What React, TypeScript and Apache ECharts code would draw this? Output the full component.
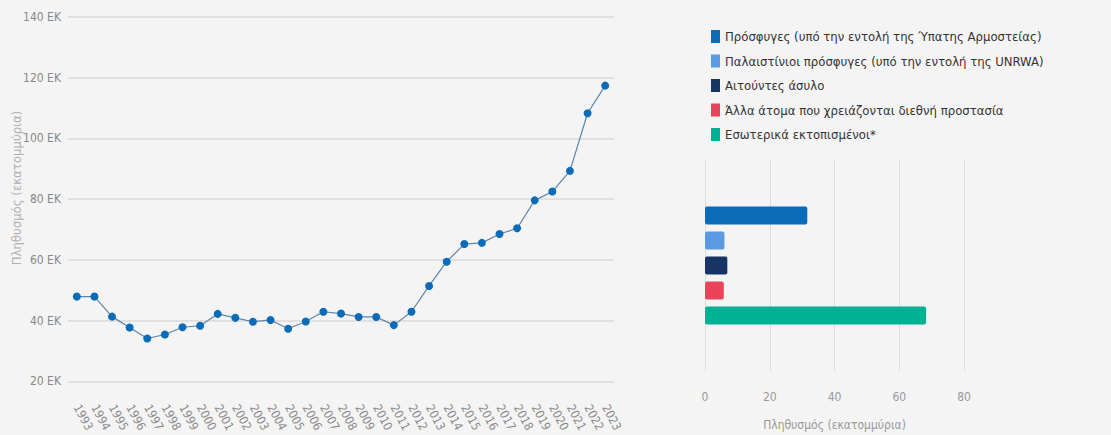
import React, { useEffect, useRef } from "react";
import * as echarts from "echarts";

const years = [
  "1993", "1994", "1995", "1996", "1997", "1998", "1999", "2000", "2001", "2002",
  "2003", "2004", "2005", "2006", "2007", "2008", "2009", "2010", "2011", "2012",
  "2013", "2014", "2015", "2016", "2017", "2018", "2019", "2020", "2021", "2022", "2023",
];
const population = [
  47.9, 47.9, 41.3, 37.7, 34.1, 35.4, 37.8, 38.3, 42.2, 40.9,
  39.6, 40.2, 37.3, 39.7, 42.9, 42.3, 41.2, 41.2, 38.5, 42.9,
  51.4, 59.4, 65.2, 65.6, 68.5, 70.4, 79.6, 82.5, 89.3, 108.3, 117.4,
];
const groupNames = [
  "Πρόσφυγες (υπό την εντολή της Ύπατης Αρμοστείας)",
  "Παλαιστίνιοι πρόσφυγες (υπό την εντολή της UNRWA)",
  "Αιτούντες άσυλο",
  "Άλλα άτομα που χρειάζονται διεθνή προστασία",
  "Εσωτερικά εκτοπισμένοι*",
];
const groupValues = [31.6, 6.0, 6.9, 5.8, 68.3];
const groupColors = ["#0a6bb9", "#5a9ae0", "#173563", "#e8445b", "#00b294"];
const yUnit = "ΕΚ";
const axisTitle = "Πληθυσμός (εκατομμύρια)";

const FONT = "'Liberation Sans Narrow', 'DejaVu Sans Condensed', 'Roboto', sans-serif";

export default function App() {
  const ref = useRef<HTMLDivElement>(null);
  useEffect(() => {
    if (!ref.current) return;
    const chart = echarts.init(ref.current, undefined, { renderer: "svg" });
    const barSeries = groupNames.map((name, i) => ({
      type: "bar",
      name,
      xAxisIndex: 1,
      yAxisIndex: 1,
      data: [groupValues[i]],
      barWidth: 18,
      barGap: "39%",
      itemStyle: { color: groupColors[i], borderRadius: 2 },
    }));
    chart.setOption({
      animation: false,
      backgroundColor: "#f4f4f4",
      textStyle: { fontFamily: FONT },
      graphic: [
        {
          type: "text",
          x: 16,
          y: 188,
          rotation: Math.PI / 2,
          style: {
            text: axisTitle,
            fill: "#b0b0b0",
            fontSize: 13,
            fontFamily: FONT,
            align: "center",
            verticalAlign: "middle",
          },
        },
      ],
      legend: {
        orient: "vertical",
        left: 706,
        top: 25,
        icon: "rect",
        itemWidth: 9,
        itemHeight: 13,
        itemGap: 11.5,
        data: groupNames,
        textStyle: { color: "#333", fontSize: 13, fontFamily: FONT, lineHeight: 13 },
        selectedMode: false,
      },
      grid: [
        { left: 68, right: 497, top: 17, bottom: 52 },
        { left: 705, right: 147, top: 160, bottom: 64 },
      ],
      xAxis: [
        {
          type: "category",
          gridIndex: 0,
          data: years,
          boundaryGap: true,
          axisLine: { show: false },
          axisTick: { show: false },
          axisLabel: {
            interval: 0,
            rotate: -62,
            margin: 24,
            color: "#8a8a8a",
            fontSize: 12,
            fontFamily: FONT,
          },
        },
        {
          type: "value",
          gridIndex: 1,
          min: 0,
          max: 80,
          interval: 20,
          axisLine: { show: false },
          axisTick: { show: false },
          splitLine: { show: true, lineStyle: { color: "#dcdcdc", width: 1 } },
          axisLabel: { color: "#999", fontSize: 12, margin: 20, fontFamily: FONT },
          name: axisTitle,
          nameLocation: "middle",
          nameGap: 48,
          nameTextStyle: { color: "#999", fontSize: 12, fontFamily: FONT },
        },
      ],
      yAxis: [
        {
          type: "value",
          gridIndex: 0,
          min: 20,
          max: 140,
          interval: 20,
          axisLine: { show: false },
          axisTick: { show: false },
          splitLine: { lineStyle: { color: "#dadada", width: 1.5 } },
          axisLabel: {
            color: "#888",
            fontSize: 12,
            margin: 7,
            fontFamily: FONT,
            formatter: (v: number) => `${v} ${yUnit}`,
          },
        },
        {
          type: "category",
          gridIndex: 1,
          data: [""],
          inverse: true,
          axisLine: { show: false },
          axisTick: { show: false },
          axisLabel: { show: false },
        },
      ],
      series: [
        {
          type: "line",
          name: "Πληθυσμός",
          xAxisIndex: 0,
          yAxisIndex: 0,
          data: population,
          symbol: "circle",
          symbolSize: 8,
          lineStyle: { color: "#5d84aa", width: 1.2 },
          itemStyle: { color: "#0a6bb9" },
        },
        ...barSeries,
      ],
    });
    return () => chart.dispose();
  }, []);
  return (
    <div
      ref={ref}
      style={{ position: "absolute", left: 0, top: 0, width: 1111, height: 435 }}
    />
  );
}
